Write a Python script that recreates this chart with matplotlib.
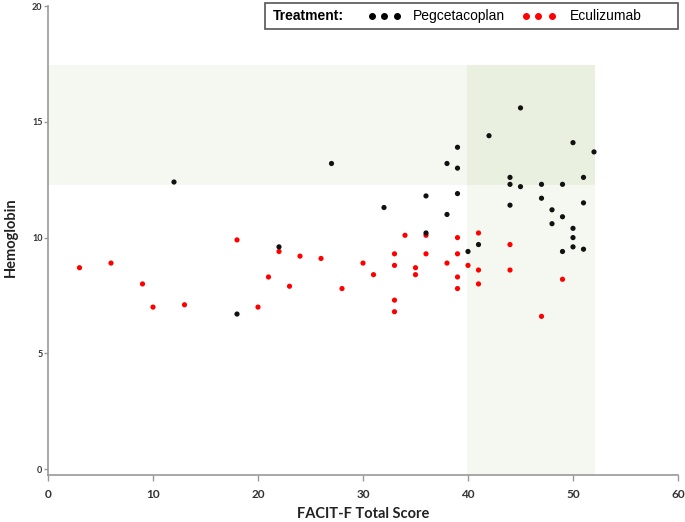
import matplotlib
matplotlib.use("Agg")
import matplotlib.pyplot as plt
from matplotlib.patches import Rectangle
from matplotlib.lines import Line2D

# Pegcetacoplan (black)
peg_x = [12, 18, 22, 27, 32, 36, 36, 38, 38, 39, 39, 39, 40, 41, 42, 44, 44, 44,
         45, 45, 47, 47, 48, 48, 49, 49, 49, 50, 50, 50, 50, 51, 51, 51, 52]
peg_y = [12.4, 6.7, 9.6, 13.2, 11.3, 11.8, 10.2, 13.2, 11.0, 13.9, 13.0, 11.9, 9.4, 9.7,
         14.4, 12.6, 12.3, 11.4, 15.6, 12.2, 12.3, 11.7, 11.2, 10.6, 12.3, 10.9, 9.4,
         14.1, 10.4, 10.0, 9.6, 12.6, 11.5, 9.5, 13.7]

# Eculizumab (red)
ecu_x = [3, 6, 9, 10, 13, 18, 20, 21, 22, 23, 24, 26, 28, 30, 31, 33, 33, 33, 33,
         34, 35, 35, 36, 36, 38, 39, 39, 39, 39, 40, 41, 41, 41, 44, 44, 47, 49]
ecu_y = [8.7, 8.9, 8.0, 7.0, 7.1, 9.9, 7.0, 8.3, 9.4, 7.9, 9.2, 9.1, 7.8, 8.9, 8.4,
         9.3, 8.8, 7.3, 6.8, 10.1, 8.7, 8.4, 10.1, 9.3, 8.9, 10.0, 9.3, 8.3, 7.8, 8.8,
         10.2, 8.6, 8.0, 9.7, 8.6, 6.6, 8.2]

# Reference ranges
hb_low, hb_high = 12.25, 17.45
facit_low, facit_high = 39.9, 52.1

x_ticks = [0, 10, 20, 30, 40, 50, 60]
y_ticks = [0, 5, 10, 15, 20]

cal = ['Lato', 'Liberation Sans', 'DejaVu Sans']

fig = plt.figure(figsize=(6.85, 5.22), dpi=100)
W, H = 685, 522
def fx(p): return p / W
def fy(p): return 1 - p / H

ax = fig.add_axes([fx(48), fy(475), (678-48)/W, (475-6)/H])

ax.set_xlim(0, 60)
ax.set_ylim(-0.25, 20)

light = '#f5f8f0'
ax.add_patch(Rectangle((0, hb_low), facit_high, hb_high - hb_low,
                       facecolor=light, edgecolor='none', zorder=0))
ax.add_patch(Rectangle((facit_low, -0.25), facit_high - facit_low, hb_high + 0.25,
                       facecolor=light, edgecolor='none', zorder=0))
ax.add_patch(Rectangle((facit_low, hb_low), facit_high - facit_low, hb_high - hb_low,
                       facecolor='#e9f0e0', edgecolor='none', zorder=0))

ax.scatter(ecu_x, ecu_y, s=14, color='#ff0000', edgecolors='none', zorder=3)
ax.scatter(peg_x, peg_y, s=14, color='#111111', edgecolors='none', zorder=3)

for side in ['top', 'right']:
    ax.spines[side].set_visible(False)
for side in ['left', 'bottom']:
    ax.spines[side].set_color('#999999')
    ax.spines[side].set_linewidth(1.2)

ax.set_xticks(x_ticks)
ax.set_yticks(y_ticks)
ax.set_xticklabels([str(v) for v in x_ticks], fontfamily=cal, fontweight='bold',
                   fontsize=8.5, color='#333333')
ax.set_yticklabels([str(v) for v in y_ticks], fontfamily=cal, fontweight='bold',
                   fontsize=6.5, color='#333333')
ax.tick_params(axis='x', length=4, width=1, color='#999999', pad=6)
ax.tick_params(axis='y', length=3, width=1, color='#999999', pad=1)

fig.text(fx(363), fy(514), 'FACIT-F Total Score', fontfamily=cal, fontweight='bold',
         fontsize=10.5, color='#222222', ha='center', va='center')
fig.text(fx(11), fy(237), 'Hemoglobin', fontfamily=cal, fontweight='bold',
         fontsize=10.5, color='#222222', ha='center', va='center', rotation=90)

# Legend box
fig.add_artist(Rectangle((fx(265), fy(29)), fx(678) - fx(265), fy(3) - fy(29),
                         transform=fig.transFigure, facecolor='white',
                         edgecolor='#555555', linewidth=1.2, zorder=5))
ty = fy(16)
fig.text(fx(273), ty, 'Treatment:', fontfamily='Liberation Sans', fontweight='bold',
         fontsize=10, va='center', ha='left', zorder=6)
for px in [372, 384, 397]:
    fig.add_artist(Line2D([fx(px)], [ty], marker='o', markersize=4, color='black',
                          linestyle='none', transform=fig.transFigure, zorder=6))
fig.text(fx(413), ty, 'Pegcetacoplan', fontfamily='Liberation Sans',
         fontsize=10, va='center', ha='left', zorder=6)
for px in [526, 538, 552]:
    fig.add_artist(Line2D([fx(px)], [ty], marker='o', markersize=4, color='#ff0000',
                          linestyle='none', transform=fig.transFigure, zorder=6))
fig.text(fx(570), ty, 'Eculizumab', fontfamily='Liberation Sans',
         fontsize=10, va='center', ha='left', zorder=6)

fig.savefig('out.png', dpi=100)
